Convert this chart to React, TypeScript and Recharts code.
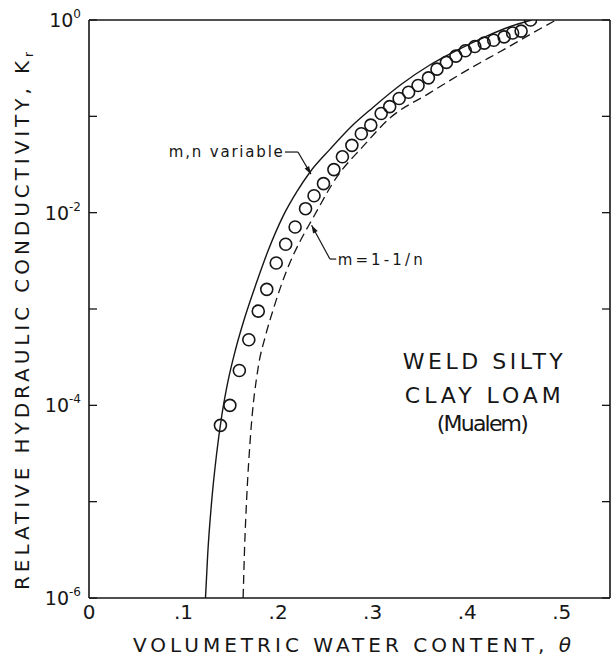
import React from 'react';
import { ComposedChart, Line, Scatter, XAxis, YAxis, ReferenceLine } from 'recharts';

// water content ticks along the bottom / top
const thetaTicks = [0, 0.1, 0.2, 0.3, 0.4, 0.5];
const thetaTickLabels = ['0', '.1', '.2', '.3', '.4', '.5'];
// decades of relative conductivity
const kTicks = [1e-6, 1e-5, 1e-4, 1e-3, 1e-2, 1e-1, 1];

// measured points (open circles)
const measuredTheta = [
  0.139, 0.149, 0.159, 0.169, 0.179, 0.188, 0.198, 0.208, 0.218, 0.229, 0.238, 0.248,
  0.259, 0.268, 0.278, 0.288, 0.298, 0.309, 0.318, 0.328, 0.338, 0.348, 0.359, 0.368,
  0.378, 0.388, 0.398, 0.408, 0.418, 0.428, 0.439, 0.448, 0.457, 0.467,
];
const measuredK = [
  6.2e-5, 1.0e-4, 2.3e-4, 4.8e-4, 9.5e-4, 1.6e-3, 3.0e-3, 4.7e-3, 7.1e-3, 0.011, 0.015, 0.02,
  0.028, 0.038, 0.05, 0.066, 0.081, 0.107, 0.126, 0.153, 0.178, 0.209, 0.251, 0.309,
  0.363, 0.422, 0.479, 0.531, 0.575, 0.617, 0.668, 0.733, 0.767, 1.0,
];

// solid curve: m,n variable
const variableTheta = [
  0.1232, 0.1255, 0.1297, 0.135, 0.1405, 0.147, 0.155, 0.165, 0.177, 0.19, 0.205, 0.22,
  0.2336, 0.255, 0.278, 0.3, 0.33, 0.36, 0.39, 0.42, 0.445, 0.468,
];
const variableK = [
  1e-6, 2.8e-6, 1e-5, 3.16e-5, 7.9e-5, 1.78e-4, 3.8e-4, 8.3e-4, 1.86e-3, 4.17e-3, 9.1e-3, 0.0166,
  0.0263, 0.0457, 0.0794, 0.123, 0.214, 0.339, 0.49, 0.676, 0.851, 1,
];

// dashed curve: m = 1 - 1/n
const fixedTheta = [
  0.163, 0.1645, 0.1667, 0.171, 0.179, 0.1865, 0.195, 0.211, 0.223, 0.236, 0.262, 0.29,
  0.318, 0.36, 0.4, 0.44, 0.47, 0.494,
];
const fixedK = [
  1e-6, 3.2e-6, 1.05e-5, 5.1e-5, 2.5e-4, 5.2e-4, 1.0e-3, 2.8e-3, 5.0e-3, 8.5e-3, 0.0234, 0.049,
  0.0955, 0.174, 0.302, 0.501, 0.741, 1,
];

// text placed on the plot (anchor in data units)
const noteText = ['m,n variable', 'm=1-1/n', 'WELD  SILTY', 'CLAY  LOAM', '(Mualem)'];
const noteTheta = [0.205, 0.263, 0.4165, 0.4165, 0.4165];
const noteK = [0.038, 0.00286, 2.4e-4, 1.05e-4, 5.4e-5];

const zip = (t: number[], k: number[]) => t.map((v, i) => ({ t: v, k: k[i] }));
const measured = zip(measuredTheta, measuredK);
const variable = zip(variableTheta, variableK);
const fixed = zip(fixedTheta, fixedK);
const notes = noteText.map((text, i) => ({ t: noteTheta[i], k: noteK[i], text }));

const FONT = '"DejaVu Sans", sans-serif';
const INK = '#161616';

const noteStyle: Record<string, { size: number; anchor: string; len: number }> = {
  'm,n variable': { size: 15, anchor: 'end', len: 114 },
  'm=1-1/n': { size: 15, anchor: 'start', len: 85 },
  'WELD  SILTY': { size: 22, anchor: 'middle', len: 160 },
  'CLAY  LOAM': { size: 22, anchor: 'middle', len: 156 },
  '(Mualem)': { size: 22, anchor: 'middle', len: 92 },
};

const NoTick = () => null;

const KTick = ({ x, y, payload }: any) => {
  const e = Math.round(Math.log10(payload.value));
  if (e % 2 !== 0) return null;
  return (
    <text x={x} y={y + 7} textAnchor="end" fontFamily={FONT} fontSize={19} fill={INK}>
      10
      <tspan dy={-9} fontSize={12}>
        {e === 0 ? '0' : `-${-e}`}
      </tspan>
    </text>
  );
};

const ThetaTick = ({ x, y, payload }: any) => (
  <text x={x} y={y + 17} textAnchor="middle" fontFamily={FONT} fontSize={20} fill={INK}>
    {thetaTickLabels[thetaTicks.indexOf(payload.value)]}
  </text>
);

const NoteShape = (p: any) => {
  const s = noteStyle[p.payload.text];
  return (
    <text
      x={p.cx}
      y={p.cy}
      textAnchor={s.anchor}
      fontFamily={FONT}
      fontSize={s.size}
      fill={INK}
      textLength={s.len}
      lengthAdjust="spacing"
    >
      {p.payload.text}
    </text>
  );
};

const Ring = (p: any) => (
  <circle cx={p.cx} cy={p.cy} r={6} fill="none" stroke={INK} strokeWidth={1.6} />
);

const ArrowLine = (p: any) => {
  const { x1, y1, x2, y2 } = p;
  const a = Math.atan2(y2 - y1, x2 - x1);
  const len = 8;
  const w = 2.6;
  const bx = x2 - len * Math.cos(a);
  const by = y2 - len * Math.sin(a);
  const pts = `${x2},${y2} ${bx - w * Math.sin(a)},${by + w * Math.cos(a)} ${bx + w * Math.sin(a)},${by - w * Math.cos(a)}`;
  return (
    <g>
      <line x1={x1} y1={y1} x2={x2} y2={y2} stroke={INK} strokeWidth={1.2} />
      <polygon points={pts} fill={INK} />
    </g>
  );
};

const PlainLine = (p: any) => (
  <line x1={p.x1} y1={p.y1} x2={p.x2} y2={p.y2} stroke={INK} strokeWidth={1.2} />
);

export default function App() {
  const axisLine = { stroke: INK, strokeWidth: 1.6 };
  const tickLine = { stroke: INK, strokeWidth: 1.3 };
  return (
    <div style={{ position: 'absolute', left: 0, top: 0, background: '#fff' }}>
      <ComposedChart width={613} height={663} margin={{ top: 20, right: 3, left: 88, bottom: 64 }}>
        {/* labelled axes (no tick marks) */}
        <XAxis
          dataKey="t"
          type="number"
          domain={[0, 0.551]}
          ticks={thetaTicks}
          allowDataOverflow
          height={1}
          axisLine={false}
          tickLine={false}
          tickSize={0}
          tickMargin={4}
          tick={<ThetaTick />}
        />
        <YAxis
          dataKey="k"
          scale="log"
          type="number"
          domain={[1e-6, 1]}
          ticks={kTicks}
          allowDataOverflow
          width={1}
          axisLine={false}
          tickLine={false}
          tickSize={0}
          tickMargin={8}
          tick={<KTick />}
        />
        {/* frame with inward ticks */}
        <XAxis xAxisId="bt" type="number" domain={[0, 0.551]} ticks={thetaTicks} allowDataOverflow height={1} mirror tick={<NoTick />} tickSize={8} axisLine={axisLine} tickLine={tickLine} />
        <XAxis xAxisId="tp" orientation="top" type="number" domain={[0, 0.551]} ticks={thetaTicks} allowDataOverflow height={1} mirror tick={<NoTick />} tickSize={8} axisLine={axisLine} tickLine={tickLine} />
        <YAxis yAxisId="lt" scale="log" type="number" domain={[1e-6, 1]} ticks={kTicks} allowDataOverflow width={1} mirror tick={<NoTick />} tickSize={8} axisLine={axisLine} tickLine={tickLine} />
        <YAxis yAxisId="rt" orientation="right" scale="log" type="number" domain={[1e-6, 1]} ticks={kTicks} allowDataOverflow width={1} mirror tick={<NoTick />} tickSize={8} axisLine={axisLine} tickLine={tickLine} />

        <Line data={variable} dataKey="k" type="monotone" stroke={INK} strokeWidth={1.4} dot={false} isAnimationActive={false} />
        <Line data={fixed} dataKey="k" type="monotone" stroke={INK} strokeWidth={1.3} strokeDasharray="9 5" dot={false} isAnimationActive={false} />
        <Scatter data={measured} dataKey="k" shape={<Ring />} isAnimationActive={false} />
        <Scatter data={notes} dataKey="k" shape={<NoteShape />} isAnimationActive={false} />

        {/* leaders */}
        <ReferenceLine segment={[{ x: 0.2072, y: 0.0426 }, { x: 0.221, y: 0.0426 }]} shape={PlainLine} />
        <ReferenceLine segment={[{ x: 0.221, y: 0.0426 }, { x: 0.2347, y: 0.0251 }]} shape={ArrowLine} />
        <ReferenceLine segment={[{ x: 0.2615, y: 0.0033 }, { x: 0.2548, y: 0.0033 }]} shape={PlainLine} />
        <ReferenceLine segment={[{ x: 0.2548, y: 0.0033 }, { x: 0.2354, y: 0.0074 }]} shape={ArrowLine} />

        <text x={133} y={652} fontFamily={FONT} fontSize={20} fill={INK} textLength={438} lengthAdjust="spacing">
          VOLUMETRIC WATER CONTENT, <tspan fontStyle="italic">θ</tspan>
        </text>
        <text transform="rotate(-90)" x={-590} y={29} fontFamily={FONT} fontSize={20} fill={INK} textLength={538} lengthAdjust="spacing">
          RELATIVE HYDRAULIC CONDUCTIVITY, K<tspan fontSize={12} dy={4}>r</tspan>
        </text>
      </ComposedChart>
    </div>
  );
}
